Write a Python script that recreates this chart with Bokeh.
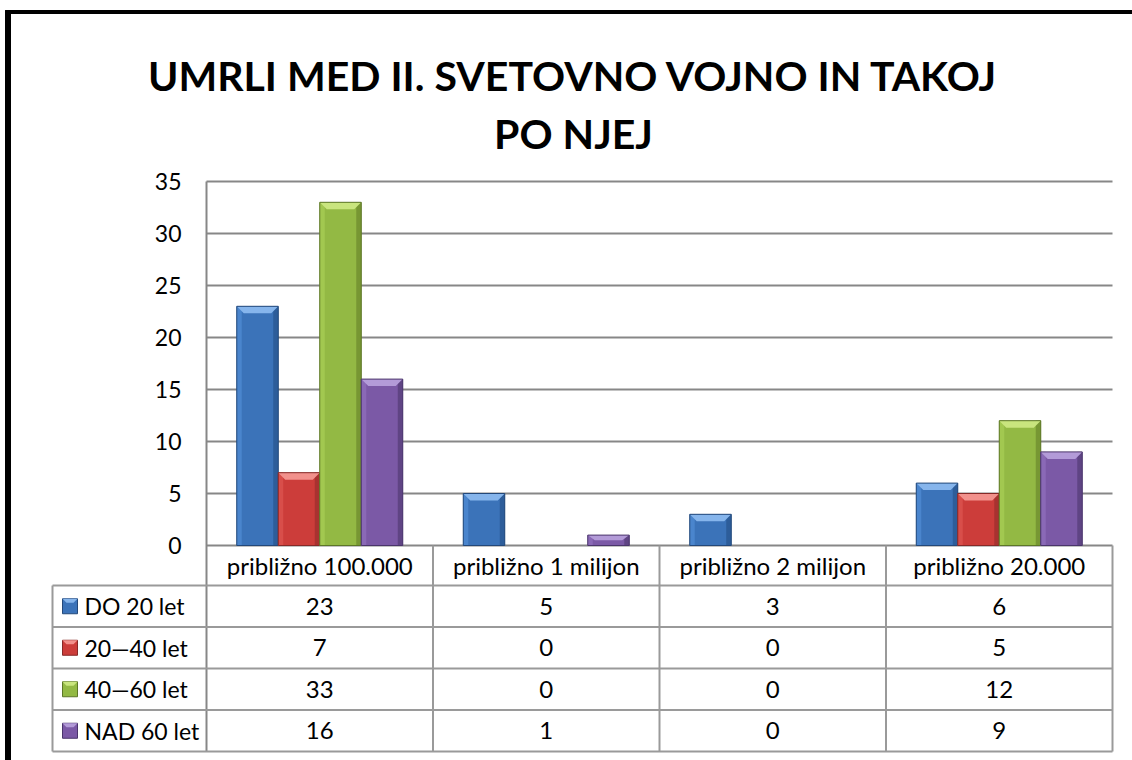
from bokeh.plotting import figure
from bokeh.models import Range1d
from bokeh.core.properties import value
from bokeh.embed import file_html
from bokeh.resources import INLINE

# ---------------- data ----------------
categories = ["približno 100.000", "približno 1 milijon", "približno 2 milijon", "približno 20.000"]
series_names = ["DO 20 let", "20—40 let", "40—60 let", "NAD 60 let"]
do_20 = [23, 5, 3, 6]
od_20_40 = [7, 0, 0, 5]
od_40_60 = [33, 0, 0, 12]
nad_60 = [16, 1, 0, 9]
y_ticks = [0, 5, 10, 15, 20, 25, 30, 35]
title_lines = ["UMRLI MED II. SVETOVNO VOJNO IN TAKOJ", "PO NJEJ"]

series_values = [do_20, od_20_40, od_40_60, nad_60]

# ---------------- styles ----------------
FONT = "Lato"
main_c = ["#3B73B9", "#CC3D3A", "#93B944", "#7B59A6"]
top_c = ["#86B5EC", "#F2918C", "#C9E57E", "#B39BD8"]
left_c = ["#4A85CD", "#D84E4A", "#A2C850", "#8A69B6"]
right_c = ["#2D5D9A", "#A83230", "#779733", "#5F4484"]
edge_c = ["#23487A", "#862927", "#5C7627", "#4A356B"]
GRID_C = "#878787"
TABLE_C = "#9A9A9A"

# ---------------- layout (picture pixels) ----------------
W, H = 1132, 760
OX, OY = 0, 0
PLOT_L, PLOT_R = 206, 1112
Y0_PX, YTOP_PX = 545, 181
ncat = len(categories)
sx = (PLOT_R - PLOT_L) / ncat
sy = (Y0_PX - YTOP_PX) / max(y_ticks)


def X(px):
    return (px - PLOT_L) / sx


def Y(py):
    return (Y0_PX - py) / sy


p = figure(width=W, height=H,
           x_range=Range1d(X(OX), X(OX + W)),
           y_range=Range1d(Y(OY + H), Y(OY)),
           output_backend="svg", toolbar_location=None, min_border=0,
           x_axis_location=None, y_axis_location=None)
p.grid.visible = False
p.outline_line_color = None
p.background_fill_color = "white"
p.border_fill_color = "white"

# outer black frame (left and top visible)
p.quad(left=[X(5)], right=[X(10)], bottom=[Y(OY + H)], top=[Y(10)], color="black")
p.quad(left=[X(5)], right=[X(OX + W)], bottom=[Y(13)], top=[Y(10)], color="black")

# title
title_base = [75, 133]
for line, by in zip(title_lines, title_base):
    p.text(x=[X(573)], y=[Y(by)], text=[line], text_font=value(FONT),
           text_font_style="bold", text_font_size="41px", text_align="center",
           text_baseline="alphabetic", text_color="black")

# gridlines and y tick labels
p.segment(x0=[0] * len(y_ticks), x1=[ncat] * len(y_ticks), y0=y_ticks, y1=y_ticks,
          line_color=GRID_C, line_width=2)
p.text(x=[X(181)] * len(y_ticks), y=y_ticks, text=[str(t) for t in y_ticks],
       text_font=value(FONT), text_font_size="23px", text_align="right",
       text_baseline="middle", text_color="black")

# bars
bw = 41.5 / sx
bev_w = 7 / sx
strip = 5 / sx
for k, vals in enumerate(series_values):
    lefts, rights, tops = [], [], []
    for i, v in enumerate(vals):
        if v <= 0:
            continue
        l = i + 0.5 + (k - 2) * bw
        lefts.append(l)
        rights.append(l + bw)
        tops.append(v)
    if not lefts:
        continue
    bots = [0] * len(lefts)
    p.quad(left=lefts, right=rights, bottom=bots, top=tops, fill_color=main_c[k], line_color=None)
    p.quad(left=lefts, right=[l + strip for l in lefts], bottom=bots, top=tops,
           fill_color=left_c[k], line_color=None)
    p.quad(left=[r - strip for r in rights], right=rights, bottom=bots, top=tops,
           fill_color=right_c[k], line_color=None)
    xs, ys = [], []
    for l, r, t in zip(lefts, rights, tops):
        h = min(7 / sy, t / 2)
        xs.append([l, r, r - bev_w, l + bev_w])
        ys.append([t, t, t - h, t - h])
    p.patches(xs=xs, ys=ys, fill_color=top_c[k], line_color=None)
    p.quad(left=lefts, right=rights, bottom=bots, top=tops, fill_color=None,
           line_color=edge_c[k], line_width=1)

# ---------------- data table ----------------
row_px = [545, 585, 626.5, 668, 709.5, 751]
row_y = [Y(v) for v in row_px]
tab_bottom = row_y[-1]
p.segment(x0=[0], x1=[0], y0=[max(y_ticks)], y1=[tab_bottom], line_color=GRID_C, line_width=2)
p.segment(x0=list(range(1, ncat + 1)), x1=list(range(1, ncat + 1)),
          y0=[0] * ncat, y1=[tab_bottom] * ncat, line_color=TABLE_C, line_width=2)
p.segment(x0=[X(52)] * 5, x1=[ncat] * 5, y0=row_y[1:], y1=row_y[1:],
          line_color=TABLE_C, line_width=2)
p.segment(x0=[X(52)], x1=[X(52)], y0=[row_y[1]], y1=[tab_bottom],
          line_color=TABLE_C, line_width=2)

p.text(x=[i + 0.5 for i in range(ncat)], y=[(row_y[0] + row_y[1]) / 2] * ncat, text=categories,
       text_font=value(FONT), text_font_size="24px", text_align="center",
       text_baseline="middle", text_color="black")

for k, (name, vals) in enumerate(zip(series_names, series_values)):
    yc = (row_y[k + 1] + row_y[k + 2]) / 2
    p.text(x=[i + 0.5 for i in range(ncat)], y=[yc] * ncat, text=[str(v) for v in vals],
           text_font=value(FONT), text_font_size="24px", text_align="center",
           text_baseline="middle", text_color="black")
    p.text(x=[X(84)], y=[yc], text=[name], text_font=value(FONT), text_font_size="23px",
           text_align="left", text_baseline="middle", text_color="black")
    hs = 7.5 / sy
    p.quad(left=[X(62)], right=[X(77)], bottom=[yc - hs], top=[yc + hs],
           fill_color=main_c[k], line_color=edge_c[k], line_width=1)
    p.patches(xs=[[X(62), X(77), X(73), X(66)]], ys=[[yc + hs, yc + hs, yc + hs - 4 / sy, yc + hs - 4 / sy]],
              fill_color=top_c[k], line_color=None)

open("out.html", "w").write(file_html(p, INLINE))
